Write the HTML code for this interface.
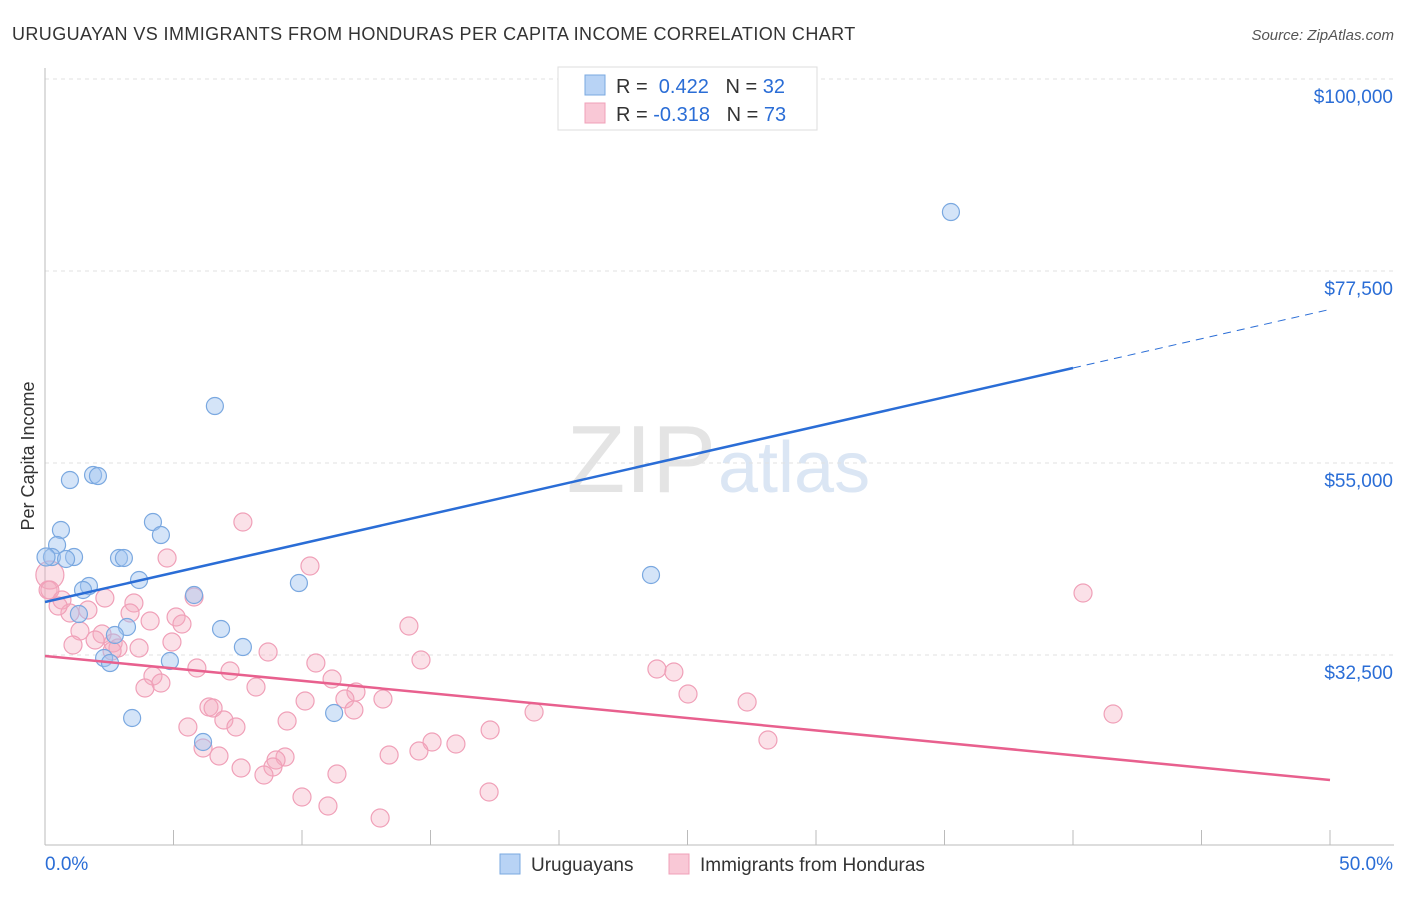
<!DOCTYPE html>
<html><head><meta charset="utf-8"><style>
body{margin:0;background:#fff;font-family:"Liberation Sans",sans-serif}
svg text{font-family:"Liberation Sans",sans-serif}
</style></head><body>
<svg id="c" width="1406" height="892" xmlns="http://www.w3.org/2000/svg">
<text x="12" y="40" font-size="18" fill="#333" letter-spacing="0.4">URUGUAYAN VS IMMIGRANTS FROM HONDURAS PER CAPITA INCOME CORRELATION CHART</text>
<text x="1394" y="40" font-size="15" fill="#555" font-style="italic" text-anchor="end">Source: ZipAtlas.com</text>
<text x="34" y="456" font-size="18" fill="#333" text-anchor="middle" transform="rotate(-90 34 456)">Per Capita Income</text>
<text x="716" y="492" font-size="96" fill="#e4e4e4" text-anchor="end" font-family="Liberation Serif">ZIP</text>
<text x="718" y="492" font-size="72" fill="#dbe6f4">atlas</text>
<g id="grid"></g><g id="pts"></g><g id="lines"></g>
<g>
<rect x="558" y="67" width="259" height="63" fill="#fff" stroke="#ddd"/>
<rect x="585" y="75" width="20" height="20" fill="#b8d3f5" stroke="#7aa8e0"/>
<rect x="585" y="103" width="20" height="20" fill="#f9c8d6" stroke="#f0a0b8"/>
<text x="616" y="93" font-size="20" fill="#333">R = <tspan fill="#2a6dd6">&#160;0.422</tspan>&#160;&#160;&#160;N = <tspan fill="#2a6dd6">32</tspan></text>
<text x="616" y="121" font-size="20" fill="#333">R = <tspan fill="#2a6dd6">-0.318</tspan>&#160;&#160;&#160;N = <tspan fill="#2a6dd6">73</tspan></text>
</g>
<g>
<rect x="500" y="854" width="20" height="20" fill="#b8d3f5" stroke="#7aa8e0"/>
<text x="531" y="871" font-size="19" fill="#333">Uruguayans</text>
<rect x="669" y="854" width="20" height="20" fill="#f9c8d6" stroke="#f0a0b8"/>
<text x="700" y="871" font-size="19" fill="#333">Immigrants from Honduras</text>
</g>
</svg>
<script>
const yTicks=[100000,77500,55000,32500];
const yTickLabels=["$100,000","$77,500","$55,000","$32,500"];
const xTickLabels=["0.0%","50.0%"];
const blueX=[35.25,6.61,1.87,2.06,0.97,4.20,0.62,4.51,0.47,0.27,1.13,2.88,3.07,0.82,23.58,3.66,9.88,1.71,1.48,5.80,1.32,3.19,6.85,2.72,7.70,4.86,2.30,2.53,11.25,3.39,6.15,0.04];
const blueY=[84413,61679,53593,53476,53007,48085,47148,46562,45390,43984,43984,43867,43867,43750,41875,41289,40937,40585,40117,39531,37304,35781,35547,34844,33437,31797,32148,31562,25703,25117,22305,43984];
const pinkX=[7.70,4.75,10.31,40.39,0.19,0.12,0.66,1.67,0.97,2.33,3.46,5.80,3.31,4.09,5.10,5.33,14.16,1.36,2.22,1.09,1.95,2.65,2.84,3.66,4.94,8.68,14.63,10.54,5.91,7.20,23.81,24.47,4.20,11.17,4.51,3.89,8.21,12.10,25.02,11.67,13.15,27.32,10.12,19.03,12.02,6.38,6.54,41.56,6.96,9.42,5.56,7.43,17.32,15.06,28.13,15.99,6.15,6.77,9.34,8.99,14.55,13.39,7.63,8.87,8.52,11.36,17.28,10.00,11.01,13.04,0.51,2.61,0.19];
const pinkY=[48085,43866,42929,39764,41874,40116,38944,37772,37421,39178,38592,39296,37421,36483,36952,36131,35897,35311,34960,33670,34256,33905,33319,33319,34022,32850,31913,31561,30975,30624,30858,30508,30038,29686,29217,28631,28748,28163,27928,27342,27342,26991,27108,25819,26053,26405,26288,25584,24881,24764,24061,24061,23709,22303,22537,22069,21600,20662,20545,20193,21248,20779,19256,19373,18436,18553,16444,15858,14803,13397,38241,32967,40116];
const blueLine=[[0,38710],[40,66132],[50,73000]];
const pinkLine=[[0,32380],[50,17850]];
const NS="http://www.w3.org/2000/svg";
const xs=v=>45+v*25.7, ys=v=>79+(100000-v)/22500*192;
function mk(t,a,p){const e=document.createElementNS(NS,t);for(const k in a)e.setAttribute(k,a[k]);p.appendChild(e);return e;}
const g=document.getElementById('grid');
yTicks.forEach((t,i)=>{
 const l=mk('line',{x1:45,x2:1394,y1:ys(t),y2:ys(t),stroke:'#e2e2e2','stroke-dasharray':'4,4'},g);
 
 
 const tx=mk('text',{x:1393,y:ys(t)+24,'font-size':19,fill:'#2a6dd6','text-anchor':'end'},g);
 tx.textContent=yTickLabels[i];
 
 
});
const ax=mk('line',{x1:45,x2:45,y1:68,y2:845,stroke:'#bbb'},g);


const bx=mk('line',{x1:45,x2:1394,y1:845,y2:845,stroke:'#bbb'},g);


for(let i=0;i<=10;i++){const t=mk('line',{x1:xs(i*5),x2:xs(i*5),y1:830,y2:845,stroke:'#bbb'},g);
 
 }
[[0,'start'],[50,'end']].forEach((d,i)=>{const t=mk('text',{x:i?1393:45,y:870,'font-size':19,fill:'#2a6dd6','text-anchor':d[1]},g);
 t.textContent=xTickLabels[i];
 
 });
const P=document.getElementById('pts');
pinkX.forEach((x,i)=>{const c=mk('circle',{cx:xs(x),cy:ys(pinkY[i]),r:i==4?14:9,fill:'rgba(244,170,190,0.35)',stroke:'#f0a0b8','stroke-width':1.2},P);
 
 });
blueX.forEach((x,i)=>{const c=mk('circle',{cx:xs(x),cy:ys(blueY[i]),r:i==31?9:8.5,fill:'rgba(160,196,240,0.45)',stroke:'#7aa8e0','stroke-width':1.2},P);
 
 });
const L=document.getElementById('lines');
let b=mk('line',{x1:xs(blueLine[0][0]),y1:ys(blueLine[0][1]),x2:xs(blueLine[1][0]),y2:ys(blueLine[1][1]),stroke:'#2a6dd6','stroke-width':2.5},L);


b=mk('line',{x1:xs(blueLine[1][0]),y1:ys(blueLine[1][1]),x2:xs(blueLine[2][0]),y2:ys(blueLine[2][1]),stroke:'#2a6dd6','stroke-width':1,'stroke-dasharray':'8,6'},L);


b=mk('line',{x1:xs(pinkLine[0][0]),y1:ys(pinkLine[0][1]),x2:xs(pinkLine[1][0]),y2:ys(pinkLine[1][1]),stroke:'#e8608e','stroke-width':2.5},L);


</script>
</body></html>
